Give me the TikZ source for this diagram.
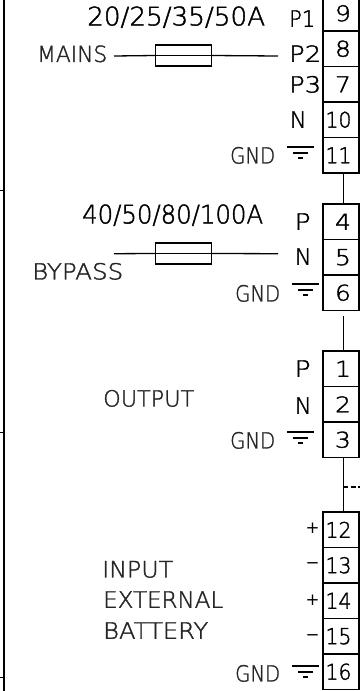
\documentclass[tikz,border=0pt]{standalone}
\usepackage{fontspec}
\setmainfont{DejaVu Sans ExtraLight}
\newfontfamily\darkf[FakeBold=1.6]{DejaVu Sans ExtraLight}
\newfontfamily\signf{DejaVu Sans}
\usepackage{graphicx}
\tikzset{
  wire/.style={draw=black,line width=1.3pt},
  termbox/.style={draw=black,line width=1.2pt,minimum width=36pt,minimum height=35.5pt,inner sep=0pt,text=black,font=\darkf},
  fusebox/.style={draw=black,line width=1.1pt,minimum width=56pt,minimum height=21pt,inner sep=0pt},
  lab/.style={anchor=south west,inner sep=0pt,text=black,font=\darkf},
  thinlab/.style={anchor=south west,inner sep=0pt,text=black!85,font=\darkf},
  signlab/.style={anchor=base west,inner sep=0pt,text=black,font=\signf},
  gndline/.style={draw=black,line width=1.1pt}
}
% name, x-left, y-bottom, width, height, text
\newcommand{\lbl}[7][lab]{\node[#1] (#2) at (#3pt,-#4pt) {\resizebox{#5pt}{#6pt}{#7}};}
\newcommand{\sign}[4]{\node[signlab] (#1) at (#2pt,-#3pt) {\resizebox{14pt}{!}{#4}};}
% name, y-top, digit
\newcommand{\termS}[3]{\node[termbox] (#1) at (341pt,-#2pt-17.75pt) {\hspace*{4pt}\resizebox{16pt}{16pt}{#3}};}
\newcommand{\termD}[3]{\node[termbox] (#1) at (341pt,-#2pt-17.75pt) {\resizebox{26pt}{16pt}{#3}\hspace*{5pt}};}
\newcommand{\gndsym}[3]{%
  \coordinate (#1) at (#2pt,-#3pt);
  \draw[gndline] (#1) -- ++(27pt,0pt);
  \draw[gndline] ([xshift=6pt,yshift=-6pt]#1) -- ++(15pt,0pt);
  \draw[gndline] ([xshift=11pt,yshift=-11pt]#1) -- ++(5pt,0pt);}
\begin{document}
\begin{tikzpicture}[x=1pt,y=1pt]
\useasboundingbox (0,0) rectangle (360,-691);
\fill[white] (0,0) rectangle (360,-691);
\begin{scope}
\clip (0,0) rectangle (360,-691);
% frame edge and ticks
\coordinate (ft) at (4,0); \coordinate (fb) at (4,-691);
\draw[wire] (ft) -- (fb);
\coordinate (a1) at (0,-190); \coordinate (a2) at (0,-432); \coordinate (a3) at (0,-677);
\draw[line width=0.8pt] (a1) -- (ft |- a1);
\draw[line width=0.8pt] (a2) -- (ft |- a2);
\draw[line width=0.8pt] (a3) -- (ft |- a3);
% terminals
\termS{t9}{-4.5}{9}
\termS{t8}{31}{8}
\termS{t7}{66.5}{7}
\termD{t10}{102}{10}
\termD{t11}{137.5}{11}
\termS{t4}{204}{4}
\termS{t5}{239.5}{5}
\termS{t6}{275}{6}
\termS{t1}{351}{1}
\termS{t2}{386.5}{2}
\termS{t3}{422}{3}
\termD{t12}{512}{12}
\termD{t13}{547.5}{13}
\termD{t14}{583}{14}
\termD{t15}{618.5}{15}
\termD{t16}{654}{16}
% links between terminal groups
\draw[wire] ([xshift=2.3pt]t11.south) -- ([xshift=2.3pt]t4.north);
\coordinate (s6) at ([xshift=2.3pt,yshift=-5pt]t6.south);
\draw[wire] (s6) -- ([xshift=2.3pt]t1.north);
\draw[wire] ([xshift=2.3pt]t3.south) -- ([xshift=2.3pt]t12.north);
\coordinate (d0) at (343.3,-487); \coordinate (d1) at (360,-487);
\draw[wire,dash pattern=on 5pt off 2.5pt] (d0) -- (d1);
% fuses
\node[fusebox] (f1) at (183.5pt,-55.5pt) {};
\node[fusebox] (f2) at (183.5pt,-253.5pt) {};
\coordinate (m1) at (114,-56); \coordinate (m2) at (278,-56);
\coordinate (b1) at (114,-253.7); \coordinate (b2) at (278,-253.7);
\draw[wire] (m1) -- (f1.west); \draw[wire] (f1.west) -- (f1.east); \draw[wire] (f1.east) -- (m2);
\draw[wire] (b1) -- (f2.west); \draw[wire] (f2.west) -- (f2.east); \draw[wire] (f2.east) -- (b2);
% ground symbols
\gndsym{g1}{287}{147}
\gndsym{g2}{292}{284}
\gndsym{g3}{287}{432}
\gndsym{g4}{292}{666}
% labels
\lbl{l1}{87}{28}{178}{19}{20/25/35/50A}
\lbl{l2}{289}{27}{26}{16.5}{P1}
\lbl[thinlab]{l3}{37}{62.5}{70}{16.5}{MAINS}
\lbl{l4}{289}{62}{32}{16.5}{P2}
\lbl{l5}{289}{93}{32}{16.5}{P3}
\lbl{l6}{289.5}{128}{17}{16.5}{N}
\lbl[thinlab]{l7}{230}{164}{45}{16.5}{GND}
\lbl{l8}{82}{226}{181}{19}{40/50/80/100A}
\lbl{l9}{294.5}{230}{16}{16.5}{P}
\lbl{l10}{294.5}{265}{17}{16.5}{N}
\lbl[thinlab]{l11}{32}{280}{91}{16.5}{BYPASS}
\lbl[thinlab]{l12}{235}{302}{45}{16.5}{GND}
\lbl{l13}{294.5}{377}{16}{16.5}{P}
\lbl{l14}{294.5}{414}{17}{16.5}{N}
\lbl[thinlab]{l15}{103}{407}{91}{16.5}{OUTPUT}
\lbl[thinlab]{l16}{230}{449}{45}{16.5}{GND}
\lbl[thinlab]{l17}{102}{578}{71}{16.5}{INPUT}
\lbl[thinlab]{l18}{103}{608}{120}{16.5}{EXTERNAL}
\lbl[thinlab]{l19}{103}{639}{105}{16.5}{BATTERY}
\lbl[thinlab]{l20}{235}{682}{45}{16.5}{GND}
\sign{l21}{305.5}{533.5}{+}
\sign{l22}{305.5}{568.5}{−}
\sign{l23}{305.5}{605}{+}
\sign{l24}{305.5}{640}{−}
\end{scope}
\end{tikzpicture}
\end{document}
